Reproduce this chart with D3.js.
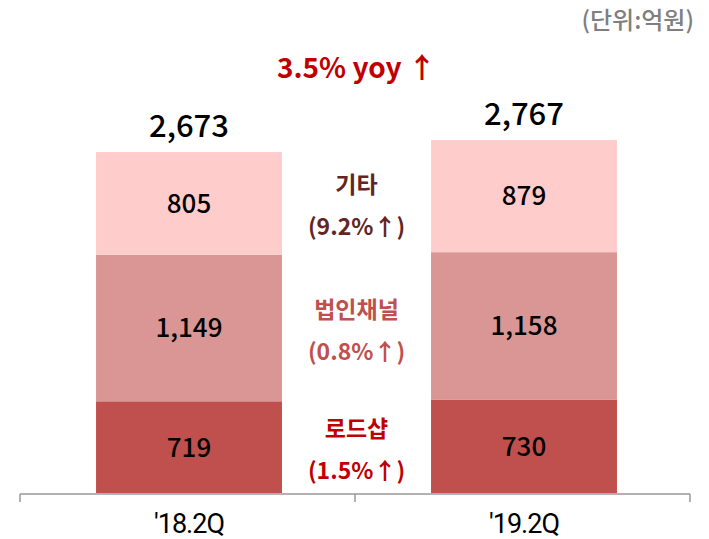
<!DOCTYPE html>
<html>
<head>
<meta charset="utf-8">
<script src="https://cdn.jsdelivr.net/npm/d3@7"></script>
<style>
  body { margin: 0; background: #fff; }
  svg text { font-family: "Noto Sans CJK KR", "Noto Sans", sans-serif; }
</style>
</head>
<body>
<svg id="chart"></svg>
<script>
// data (단위: 억원)
const categories = ["'18.2Q", "'19.2Q"];
const seriesNames = ["로드샵", "법인채널", "기타"];
const roadshop = [719, 730];
const corporate = [1149, 1158];
const others = [805, 879];
const growthLabels = ["(1.5%↑)", "(0.8%↑)", "(9.2%↑)"];
const yoyLabel = "3.5% yoy ↑";
const unitLabel = "(단위:억원)";

const width = 709, height = 539;
const colors = ["#c0504d", "#d99694", "#ffcccc"];
const labelColors = ["#c00000", "#c0504d", "#632523"];

const svg = d3.select("#chart")
    .attr("width", width)
    .attr("height", height);

const rows = categories.map((c, i) => ({
    cat: c,
    "로드샵": roadshop[i],
    "법인채널": corporate[i],
    "기타": others[i]
}));

const stacked = d3.stack().keys(seriesNames)(rows);

const x = d3.scaleBand()
    .domain(categories)
    .range([21.5, 691.5])
    .paddingInner(0.445)
    .paddingOuter(0.2225);

const y = d3.scaleLinear()
    .domain([0, 3865])
    .range([493, 0]);

// bars
const layer = svg.selectAll(".layer")
    .data(stacked)
    .enter()
    .append("g")
    .attr("fill", (d, i) => colors[i]);

layer.selectAll("rect")
    .data(d => d)
    .enter()
    .append("rect")
    .attr("x", d => x(d.data.cat))
    .attr("y", d => y(d[1]))
    .attr("width", x.bandwidth())
    .attr("height", d => y(d[0]) - y(d[1]));

// segment values
layer.selectAll("text")
    .data(d => d)
    .enter()
    .append("text")
    .attr("x", d => x(d.data.cat) + x.bandwidth() / 2)
    .attr("y", d => (y(d[0]) + y(d[1])) / 2)
    .attr("dy", "0.36em")
    .attr("text-anchor", "middle")
    .attr("fill", "#000")
    .style("font-size", "26px")
    .style("font-weight", "500")
    .text(d => d3.format(",")(d[1] - d[0]));

// totals
svg.selectAll(".total")
    .data(stacked[stacked.length - 1])
    .enter()
    .append("text")
    .attr("class", "total")
    .attr("x", d => x(d.data.cat) + x.bandwidth() / 2)
    .attr("y", d => y(d[1]) - 15)
    .attr("text-anchor", "middle")
    .attr("fill", "#000")
    .style("font-size", "31px")
    .style("font-weight", "500")
    .text(d => d3.format(",")(d[1]));

// growth labels between bars, aligned to the first bar's segments
const midX = (x(categories[0]) + x.bandwidth() + x(categories[1])) / 2;
const g = svg.selectAll(".growth")
    .data(stacked)
    .enter()
    .append("g")
    .attr("class", "growth");

g.append("text")
    .attr("x", midX)
    .attr("y", d => (y(d[0][0]) + y(d[0][1])) / 2 - 10)
    .attr("text-anchor", "middle")
    .attr("fill", (d, i) => labelColors[i])
    .style("font-size", "23px")
    .style("font-weight", "700")
    .text(d => d.key);

g.append("text")
    .attr("x", midX)
    .attr("y", d => (y(d[0][0]) + y(d[0][1])) / 2 + 32)
    .attr("text-anchor", "middle")
    .attr("fill", (d, i) => labelColors[i])
    .style("font-size", "23px")
    .style("font-weight", "700")
    .text((d, i) => growthLabels[i]);

// yoy title
svg.append("text")
    .attr("x", midX)
    .attr("y", 78)
    .attr("text-anchor", "middle")
    .attr("fill", "#c00000")
    .style("font-size", "28px")
    .style("font-weight", "700")
    .text(yoyLabel);

// unit
svg.append("text")
    .attr("x", 694)
    .attr("y", 29)
    .attr("text-anchor", "end")
    .attr("fill", "#7f7f7f")
    .style("font-size", "24px")
    .style("font-weight", "500")
    .text(unitLabel);

// x axis: base line with ticks at category edges
const axisLeft = 20, axisRight = 690;
const axisG = svg.append("g")
    .attr("transform", `translate(0,${y(0) + 1})`);

axisG.append("line")
    .attr("x1", axisLeft)
    .attr("x2", axisRight)
    .attr("stroke", "#999")
    .attr("stroke-width", 1.5);

const edges = [axisLeft, (axisLeft + axisRight) / 2, axisRight];
axisG.selectAll(".tick")
    .data(edges)
    .enter()
    .append("line")
    .attr("x1", d => d)
    .attr("x2", d => d)
    .attr("y1", 0)
    .attr("y2", 8)
    .attr("stroke", "#999")
    .attr("stroke-width", 1.5);

axisG.selectAll(".cat")
    .data(categories)
    .enter()
    .append("text")
    .attr("x", d => x(d) + x.bandwidth() / 2)
    .attr("y", 39)
    .attr("text-anchor", "middle")
    .attr("fill", "#000")
    .style("font-family", "'Liberation Sans Narrow', 'Roboto', sans-serif")
    .style("font-size", "27px")
    .style("letter-spacing", "-1px")
    .text(d => d);
</script>
</body>
</html>
